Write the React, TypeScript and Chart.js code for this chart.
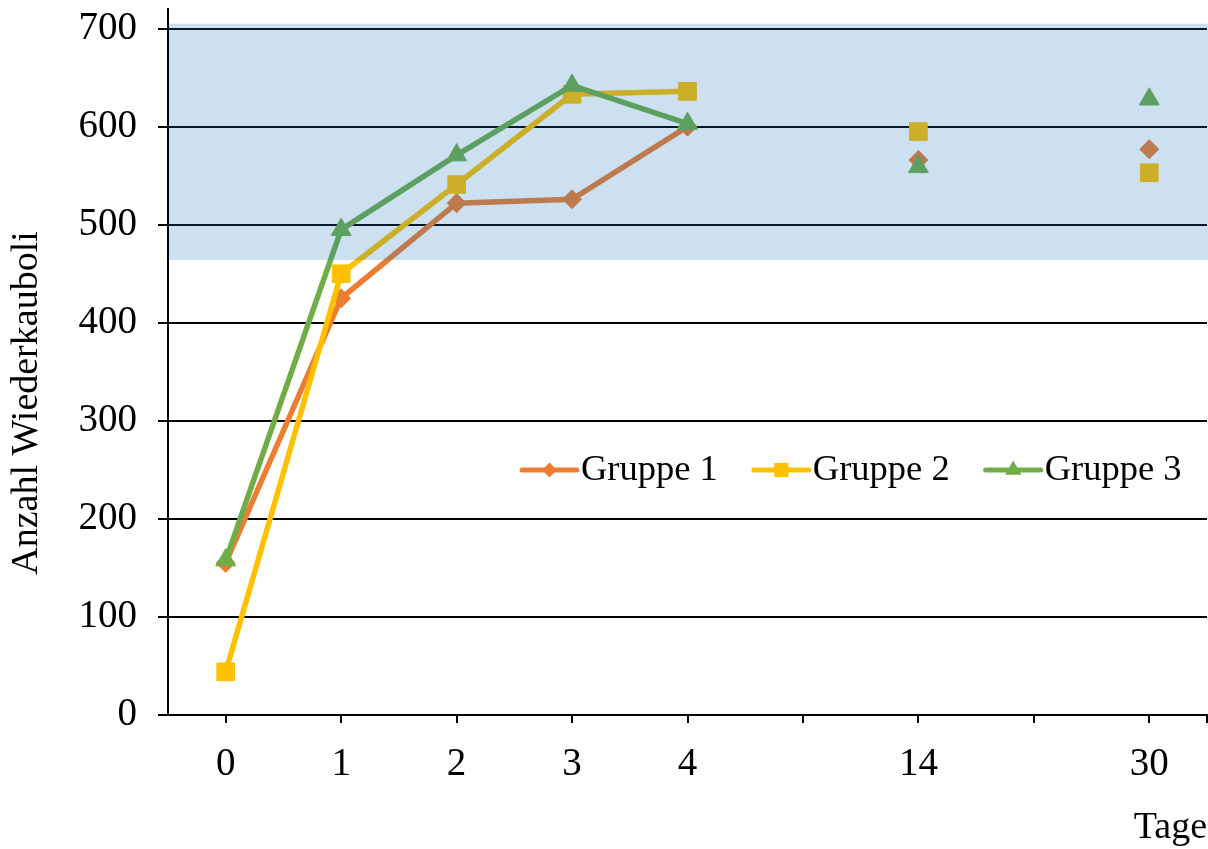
import React, { useEffect, useRef } from 'react';
import { Chart, registerables } from 'chart.js';

Chart.register(...registerables);

// Days after start (empty slots keep the gaps between 4, 14 and 30)
const days = ['0', '1', '2', '3', '4', '', '14', '', '30'];

const gruppe1 = [155, 425, 522, 526, 600, null, 566, null, 577];
const gruppe2 = [44, 450, 541, 633, 636, null, 595, null, 553];
const gruppe3 = [158, 495, 571, 642, 603, null, 559, null, 628];

const seriesNames = ['Gruppe 1', 'Gruppe 2', 'Gruppe 3'];
const seriesColors = ['#ED7D31', '#FFC000', '#70AD47'];
const seriesMarkers = ['rectRot', 'rect', 'triangle'];
const markerRadius = [9.5, 12.5, 11.5];
const legendMarkerRadius = [7.5, 10, 9.5];

const yTitle = 'Anzahl Wiederkauboli';
const xTitle = 'Tage';

// Normal range shaded across the plot
const normalRange = [464, 705];

const yMin = 0;
const yMax = 720;
const yStep = 100;

const FONT_FAMILY = "'Liberation Serif', 'Times New Roman', serif";
const TICK_SIZE = 39;
const TITLE_SIZE = 38;
const LEGEND_SIZE = 36.5;

const shadePlugin = {
  id: 'normalRangeShade',
  afterDatasetsDraw(chart: any) {
    const { ctx, chartArea, scales } = chart;
    const y = scales.y;
    const top = y.getPixelForValue(normalRange[1]);
    const bottom = y.getPixelForValue(normalRange[0]);
    ctx.save();
    ctx.fillStyle = 'rgba(23,114,187,0.22)';
    ctx.fillRect(chartArea.left + 1, top, chartArea.right - chartArea.left, bottom - top);
    ctx.restore();
  },
};

function drawMarker(ctx: CanvasRenderingContext2D, style: string, x: number, y: number, r: number, color: string) {
  ctx.save();
  ctx.fillStyle = color;
  ctx.beginPath();
  if (style === 'rect') {
    const s = Math.SQRT1_2 * r;
    ctx.rect(x - s, y - s, 2 * s, 2 * s);
  } else if (style === 'rectRot') {
    ctx.moveTo(x, y - r);
    ctx.lineTo(x + r, y);
    ctx.lineTo(x, y + r);
    ctx.lineTo(x - r, y);
    ctx.closePath();
  } else {
    const h = r * 1.5;
    const w = r * Math.sqrt(3) / 2;
    ctx.moveTo(x, y - r);
    ctx.lineTo(x + w, y - r + h);
    ctx.lineTo(x - w, y - r + h);
    ctx.closePath();
  }
  ctx.fill();
  ctx.restore();
}

const legendPlugin = {
  id: 'lineLegend',
  afterDraw(chart: any) {
    const { ctx, chartArea } = chart;
    const lineLen = 55;
    const gap = 36;
    const ly = 470;
    ctx.save();
    ctx.font = `${LEGEND_SIZE}px ${FONT_FAMILY}`;
    ctx.textBaseline = 'middle';
    ctx.textAlign = 'left';
    let x = 522;
    seriesNames.forEach((name, i) => {
      ctx.strokeStyle = seriesColors[i];
      ctx.lineWidth = 5;
      ctx.lineCap = 'round';
      ctx.beginPath();
      ctx.moveTo(x, ly);
      ctx.lineTo(x + lineLen, ly);
      ctx.stroke();
      drawMarker(ctx, seriesMarkers[i], x + lineLen / 2, ly, legendMarkerRadius[i], seriesColors[i]);
      ctx.fillStyle = '#000';
      ctx.fillText(name, x + lineLen + 4, ly);
      x += lineLen + 4 + ctx.measureText(name).width + gap;
    });

    // vertical axis title, sitting a little below the plot's middle
    ctx.font = `${TITLE_SIZE}px ${FONT_FAMILY}`;
    ctx.textAlign = 'center';
    ctx.translate(27, 403);
    ctx.rotate(-Math.PI / 2);
    ctx.fillText(yTitle, 0, 0);
    ctx.setTransform(1, 0, 0, 1, 0, 0);

    // closing tick at the right end of the category axis
    ctx.strokeStyle = '#000';
    ctx.lineWidth = 2;
    ctx.lineCap = 'butt';
    ctx.beginPath();
    ctx.moveTo(chartArea.right, chartArea.bottom);
    ctx.lineTo(chartArea.right, chartArea.bottom + 8);
    ctx.stroke();
    ctx.restore();
  },
};

export default function App() {
  const canvasRef = useRef<HTMLCanvasElement | null>(null);

  useEffect(() => {
    const canvas = canvasRef.current;
    if (!canvas) return;
    const tickFont = { family: FONT_FAMILY, size: TICK_SIZE };
    const titleFont = { family: FONT_FAMILY, size: TITLE_SIZE, lineHeight: 1 };
    const seriesData = [gruppe1, gruppe2, gruppe3];

    const chart = new Chart(canvas, {
      type: 'line',
      data: {
        labels: days,
        datasets: seriesData.map((d, i) => ({
          label: seriesNames[i],
          data: d,
          borderColor: seriesColors[i],
          backgroundColor: seriesColors[i],
          borderWidth: 5.5,
          pointStyle: seriesMarkers[i] as any,
          pointRadius: markerRadius[i],
          pointBackgroundColor: seriesColors[i],
          pointBorderColor: seriesColors[i],
          pointBorderWidth: 1,
          spanGaps: false,
          tension: 0,
          order: 2 - i,
        })),
      },
      options: {
        animation: false,
        responsive: false,
        maintainAspectRatio: false,
        layout: { autoPadding: false, padding: { top: 9, right: 1, left: 0, bottom: 0 } },
        plugins: {
          legend: { display: false },
          tooltip: { enabled: false },
        },
        scales: {
          x: {
            type: 'category',
            offset: true,
            grid: {
              drawOnChartArea: false,
              drawTicks: true,
              tickLength: 8,
              color: '#000',
              lineWidth: 2,
              offset: false,
            },
            border: { color: '#000', width: 2 },
            ticks: {
              font: tickFont,
              color: '#000',
              padding: 18,
              maxRotation: 0,
              autoSkip: false,
            },
            title: {
              display: true,
              text: xTitle,
              align: 'end',
              font: titleFont,
              color: '#000',
              padding: { top: 0, bottom: 2 },
            },
            afterFit(scale: any) {
              scale.height = 134;
              scale.paddingLeft = 0;
              scale.paddingRight = 0;
            },
          },
          y: {
            min: yMin,
            max: yMax,
            ticks: {
              stepSize: yStep,
              includeBounds: false,
              font: tickFont,
              color: '#000',
              padding: 21,
            },
            grid: {
              color: '#000',
              lineWidth: 2,
              tickLength: 10,
            },
            border: { color: '#000', width: 2 },
            afterFit(scale: any) {
              scale.width = 168;
              scale.paddingTop = 0;
              scale.paddingBottom = 0;
            },
          },
        },
      },
      plugins: [shadePlugin, legendPlugin],
    });

    return () => chart.destroy();
  }, []);

  return (
    <div style={{ position: 'absolute', left: 0, top: 0, width: 1208, height: 849, background: '#fff' }}>
      <canvas ref={canvasRef} width={1208} height={849} />
    </div>
  );
}
